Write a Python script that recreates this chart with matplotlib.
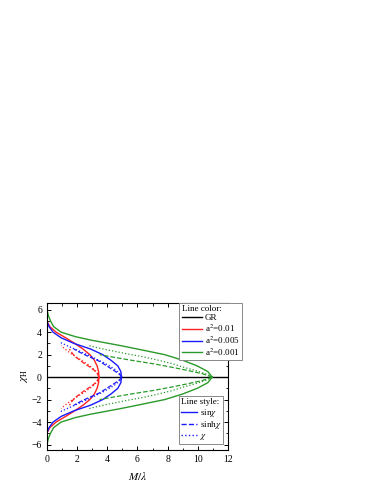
import matplotlib
matplotlib.use("Agg")
import matplotlib.pyplot as plt
from matplotlib.lines import Line2D

plt.rcParams['font.family'] = ['Liberation Serif', 'DejaVu Serif']
plt.rcParams['mathtext.fontset'] = 'stix'

# upper half (chi_H >= 0); curves are mirrored about chi_H = 0
# a^2 = 0.01
red_sin_chi = [0.0, 0.5, 1.0, 1.5, 2.0, 2.5, 3.0, 3.5, 4.0, 4.5, 5.0]
red_sin_m = [3.45, 3.43, 3.33, 3.15, 2.85, 2.4, 1.85, 1.25, 0.62, 0.2, 0.0]
red_sinh_chi = [0.0, 0.3, 0.6, 0.9, 1.2, 1.5, 1.8, 2.1, 2.5]
red_sinh_m = [3.45, 3.35, 3.15, 2.85, 2.5, 2.2, 1.9, 1.7, 1.5]
red_lin_chi = [0.0, 0.3, 0.6, 0.9, 1.2, 1.5, 1.8, 2.1, 2.4, 2.8]
red_lin_m = [3.45, 3.4, 3.2, 2.95, 2.65, 2.3, 1.95, 1.6, 1.3, 0.95]

# a^2 = 0.005
blue_sin_chi = [0.0, 0.5, 1.0, 1.5, 2.0, 2.5, 3.0, 3.5, 4.0, 4.5, 5.0]
blue_sin_m = [4.95, 4.9, 4.7, 4.25, 3.7, 2.9, 1.8, 0.95, 0.42, 0.15, 0.0]
blue_sinh_chi = [0.0, 0.2, 0.5, 0.8, 1.1, 1.4, 1.7, 2.0, 2.3, 2.5]
blue_sinh_m = [4.95, 4.85, 4.55, 4.2, 3.85, 3.5, 3.0, 2.5, 2.05, 1.8]
blue_lin_chi = [0.0, 0.3, 0.7, 1.0, 1.3, 1.6, 1.9, 2.2, 2.5, 2.8, 3.08]
blue_lin_m = [4.95, 4.85, 4.5, 4.15, 3.75, 3.3, 2.85, 2.35, 1.85, 1.35, 0.9]

# a^2 = 0.001
green_sin_chi = [0.0, 0.5, 1.0, 1.5, 2.0, 2.5, 2.8, 3.0, 3.3, 3.6, 4.0, 4.5, 5.0, 5.5, 6.1]
green_sin_m = [10.95, 10.65, 9.95, 9.0, 7.8, 6.0, 4.9, 4.1, 2.9, 1.9, 0.95, 0.45, 0.25, 0.1, 0.0]
green_sinh_chi = [0.0, 0.3, 0.6, 0.9, 1.2, 1.5, 1.8, 2.0]
green_sinh_m = [10.95, 10.3, 9.3, 8.2, 7.0, 5.6, 4.3, 3.5]
green_lin_chi = [0.0, 0.3, 0.6, 0.9, 1.2, 1.5, 1.8, 2.1, 2.4, 2.6, 2.8]
green_lin_m = [10.95, 10.5, 9.8, 9.0, 8.3, 7.4, 6.4, 5.2, 4.1, 3.4, 2.8]

RED, BLUE, GREEN = '#ff2020', '#1a1aff', '#2b9a2b'

curves = [
    (red_sin_chi, red_sin_m, RED, '-'),
    (red_sinh_chi, red_sinh_m, RED, '--'),
    (red_lin_chi, red_lin_m, RED, ':'),
    (blue_sin_chi, blue_sin_m, BLUE, '-'),
    (blue_sinh_chi, blue_sinh_m, BLUE, '--'),
    (blue_lin_chi, blue_lin_m, BLUE, ':'),
    (green_sin_chi, green_sin_m, GREEN, '-'),
    (green_sinh_chi, green_sinh_m, GREEN, '--'),
    (green_lin_chi, green_lin_m, GREEN, ':'),
]

fig = plt.figure(figsize=(3.74, 4.84), dpi=100)
ax = fig.add_axes([0.125, 0.07, 0.485, 0.304])

ax.axhline(0, color='black', lw=1.0)
for chi, m, col, ls in curves:
    w = 1.0 if ls == '-' else 0.9
    ax.plot(m, chi, color=col, ls=ls, lw=w)
    ax.plot(m, [-c for c in chi], color=col, ls=ls, lw=w)

ax.set_xlim(0, 12)
ax.set_ylim(-6.5, 6.6)
ax.set_xticks([0, 2, 4, 6, 8, 10, 12])
ax.set_yticks([-6, -4, -2, 0, 2, 4, 6])
ax.set_xticks(range(1, 12, 2), minor=True)
ax.set_yticks([-5, -3, -1, 1, 3, 5], minor=True)
ax.tick_params(which='both', direction='in', top=True, right=True, labelsize=7)
ax.tick_params(which='major', length=3, width=0.7)
ax.tick_params(which='minor', length=1.8, width=0.6)
for s in ax.spines.values():
    s.set_linewidth(0.8)
ax.set_xlabel(r'$M/\lambda$', fontsize=8)
ax.set_ylabel(r'$\chi_{\rm H}$', fontsize=8, labelpad=1)

legend_kw = dict(fontsize=6.5, title_fontsize=6.5, frameon=True, fancybox=False,
                 edgecolor='#888888', framealpha=1,
                 handletextpad=0.3, labelspacing=0.05, borderpad=0.25,
                 borderaxespad=0)

color_handles = [
    Line2D([], [], color='black', lw=1.0),
    Line2D([], [], color=RED, lw=1.0),
    Line2D([], [], color=BLUE, lw=1.0),
    Line2D([], [], color=GREEN, lw=1.0),
]
color_labels = ['GR', 'a$^2$=0.01', 'a$^2$=0.005', 'a$^2$=0.001']
leg1 = fig.legend(color_handles, color_labels, title='Line color:',
                  loc='upper right', bbox_to_anchor=(0.647, 0.374),
                  handlelength=2.3, **legend_kw)
leg1._legend_box.align = 'left'
leg1.get_frame().set_linewidth(0.7)

style_handles = [
    Line2D([], [], color=BLUE, lw=1.0, ls='-'),
    Line2D([], [], color=BLUE, lw=1.0, ls='--'),
    Line2D([], [], color=BLUE, lw=1.0, ls=':'),
]
style_labels = [r'sin$\chi$', r'sinh$\chi$', r'$\chi$']
leg2 = fig.legend(style_handles, style_labels, title='Line style:',
                  loc='lower right', bbox_to_anchor=(0.597, 0.082),
                  handlelength=1.7, **legend_kw)
leg2._legend_box.align = 'left'
leg2.get_frame().set_linewidth(0.7)

fig.savefig('out.png', dpi=100)
